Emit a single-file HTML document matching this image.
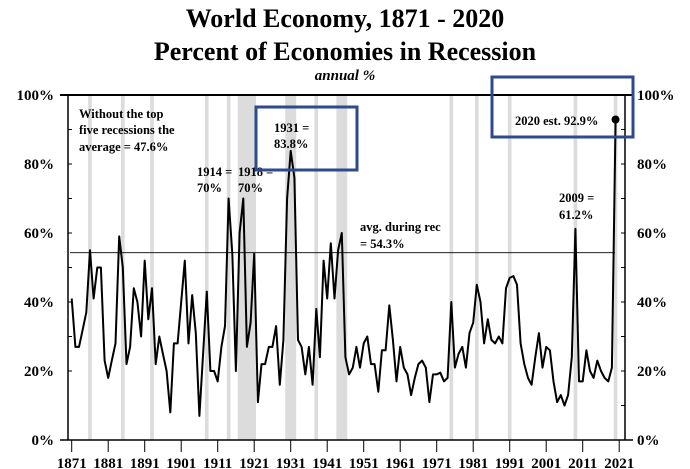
<!DOCTYPE html>
<html><head><meta charset="utf-8"><style>
body{margin:0;background:#fff;}
svg{display:block;font-family:"Liberation Serif",serif;font-weight:bold;}
</style></head><body>
<svg id="chart" width="690" height="469" viewBox="0 0 690 469" xmlns="http://www.w3.org/2000/svg">
<text x="345" y="27" text-anchor="middle" font-size="26">World Economy, 1871 - 2020</text>
<text x="345" y="60" text-anchor="middle" font-size="26">Percent of Economies in Recession</text>
<text x="345" y="80" text-anchor="middle" font-size="15" font-style="italic">annual %</text>
<g id="bands"></g>
<g id="axes"></g>
<line id="avgline" stroke="#000" stroke-width="0.8"/>
<path id="series" fill="none" stroke="#000" stroke-width="2" stroke-linejoin="round"/>
<circle id="pt2020" r="4" fill="#000"/>
<text font-size="12.5"><tspan x="79" y="118">Without the top</tspan><tspan x="79" y="134">five recessions the</tspan><tspan x="79" y="151">average = 47.6%</tspan></text>
<text font-size="12.5"><tspan x="197" y="176">1914 =</tspan><tspan x="197" y="192">70%</tspan></text>
<text font-size="12.5"><tspan x="238" y="176">1918 =</tspan><tspan x="238" y="192">70%</tspan></text>
<text font-size="12.5"><tspan x="274" y="132">1931 =</tspan><tspan x="274" y="148">83.8%</tspan></text>
<rect x="256" y="107" width="101" height="63" fill="none" stroke="#2e4a8c" stroke-width="3"/>
<text font-size="12.5"><tspan x="559" y="202">2009 =</tspan><tspan x="559" y="219">61.2%</tspan></text>
<text font-size="12.5"><tspan x="360" y="231">avg. during rec</tspan><tspan x="360" y="248">= 54.3%</tspan></text>
<text x="515" y="125" font-size="12.5">2020 est. 92.9%</text>
<rect x="492" y="77" width="141" height="60" fill="none" stroke="#2e4a8c" stroke-width="3"/>
</svg>
<script>
const years=[];for(let y=1871;y<=2020;y++)years.push(y);
const values=[41,27,27,32,37,55,41,50,50,23,18,23,28,59,50,22,27,44,40,30,52,35,44,22,30,25,20,8,28,28,40,52,28,42,31,7,25,43,20,20,17,27,33,70,54,20,60,70,27,34,54,11,22,22,27,27,33,16,29,70,83.8,76,29,27,19,27,16,38,24,52,41,57,41,55,60,24,19,21,27,21,28,30,22,22,14,26,26,39,29,17,27,21,19,13,18,22,23,21,11,19,19,19.5,17,18,40,21,25,27,21,31,34,45,40,28,35,29,28,30,28,44,47,47.5,45,28,22,18,16,24,31,21,27,26,17,11,13,10,13,24,61.2,17,17,26,20,18,23,20,18,17,21,92.9];
const avgValue=54.3;
const bandStarts=[1876,1885,1893,1908,1914,1917,1930,1938,1944,1975,1982,1991,2009,2020];
const bandEnds=[1876,1885,1893,1908,1914,1921,1932,1938,1946,1975,1982,1991,2009,2020];
const yTicks=[0,20,40,60,80,100];
const xTicks=[1871,1881,1891,1901,1911,1921,1931,1941,1951,1961,1971,1981,1991,2001,2011,2021];
const NS="http://www.w3.org/2000/svg";
const X=y=>71.7+(y-1871)*3.65;
const Y=v=>440-v*3.45;
function mk(tag,attrs,parent){const e=document.createElementNS(NS,tag);for(const k in attrs)e.setAttribute(k,attrs[k]);parent.appendChild(e);return e;}
const bands=document.getElementById('bands');
bandStarts.forEach((s,i)=>{const r=mk('rect',{x:X(s-0.5),y:95,width:X(bandEnds[i]+0.5)-X(s-0.5),height:345,fill:'#dcdcdc'},bands);

});
const ax=document.getElementById('axes');
const L=68,R=625;
let a=mk('line',{x1:L,y1:95,x2:L,y2:440,stroke:'#000','stroke-width':1.5},ax);


a=mk('line',{x1:R,y1:95,x2:R,y2:440,stroke:'#000','stroke-width':1.5},ax);


a=mk('line',{x1:L-8,y1:440,x2:R+8,y2:440,stroke:'#000','stroke-width':1.5},ax);


a=mk('line',{x1:L-8,y1:95,x2:R+8,y2:95,stroke:'#000','stroke-width':2},ax);


yTicks.forEach(v=>{
 mk('line',{x1:L,y1:Y(v),x2:L+4,y2:Y(v),stroke:'#000'},ax);
 mk('line',{x1:R-4,y1:Y(v),x2:R,y2:Y(v),stroke:'#000'},ax);
 if(v>0&&v<100){mk('line',{x1:L,y1:Y(v+10),x2:L+4,y2:Y(v+10),stroke:'#000'},ax);}
 if(v<100){mk('line',{x1:R-4,y1:Y(v+10),x2:R,y2:Y(v+10),stroke:'#000'},ax);}
 const t=mk('text',{x:54,y:Y(v)+5,'text-anchor':'end','font-size':15},ax);t.textContent=v+'%';
 
 
 const t2=mk('text',{x:637,y:Y(v)+5,'font-size':15},ax);t2.textContent=v+'%';
 
 
});
xTicks.forEach(y=>{
 mk('line',{x1:X(y),y1:440,x2:X(y),y2:452,stroke:'#000'},ax);
 const t=mk('text',{x:X(y),y:468,'text-anchor':'middle','font-size':15},ax);t.textContent=y;
 
 
});
const al=document.getElementById('avgline');
al.setAttribute('x1',L+2);al.setAttribute('x2',615);al.setAttribute('y1',Y(avgValue));al.setAttribute('y2',Y(avgValue));
document.getElementById('series').setAttribute('d',values.map((v,i)=>(i?'L':'M')+X(years[i]).toFixed(1)+','+Y(v).toFixed(1)).join(''));
const p=document.getElementById('pt2020');const li=values.length-1;
p.setAttribute('cx',X(years[li]));p.setAttribute('cy',Y(values[li]));
</script>
</body></html>
